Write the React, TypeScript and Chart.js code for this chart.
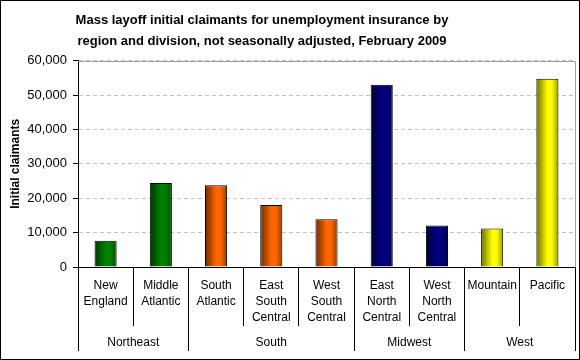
import React, { useEffect, useRef } from "react";
import { Chart, registerables } from "chart.js";

Chart.register(...registerables);

const TITLE_LINES = [
  "Mass layoff initial claimants for unemployment insurance by",
  "region and division, not seasonally adjusted, February 2009",
];
const Y_TITLE = "Initial claimants";

const DIVISIONS: string[][] = [
  ["New", "England"],
  ["Middle", "Atlantic"],
  ["South", "Atlantic"],
  ["East", "South", "Central"],
  ["West", "South", "Central"],
  ["East", "North", "Central"],
  ["West", "North", "Central"],
  ["Mountain"],
  ["Pacific"],
];
const CLAIMANTS = [7600, 24400, 23800, 18000, 13900, 53000, 12100, 11200, 54700];

const REGIONS = ["Northeast", "South", "Midwest", "West"];
const REGION_SIZES = [2, 3, 2, 2];

const Y_TICKS = [0, 10000, 20000, 30000, 40000, 50000, 60000];

const REGION_COLORS = ["#008000", "#FF6600", "#000080", "#FFFF00"];

const FONT = "'Liberation Sans', Arial, Helvetica, sans-serif";

// region layout helpers (derived from REGION_SIZES)
const regionBounds: number[] = [];
const regionCenters: number[] = [];
{
  let start = -0.5;
  regionBounds.push(start);
  REGION_SIZES.forEach((n) => {
    regionCenters.push(start + n / 2);
    start += n;
    regionBounds.push(start);
  });
}
const barRegion: number[] = [];
REGION_SIZES.forEach((n, r) => {
  for (let i = 0; i < n; i++) barRegion.push(r);
});

function shade(hex: string, f: number): string {
  const h = hex.replace("#", "");
  const r = Math.round(parseInt(h.slice(0, 2), 16) * f);
  const g = Math.round(parseInt(h.slice(2, 4), 16) * f);
  const b = Math.round(parseInt(h.slice(4, 6), 16) * f);
  return `rgb(${r},${g},${b})`;
}

const BAR_FRACTION = 0.4;

const titleShift = {
  id: "titleShift",
  afterLayout(chart: any) {
    const t = chart.titleBlock;
    if (t) {
      t.left -= 26;
      t.right -= 26;
    }
  },
};

const plotFrame = {
  id: "plotFrame",
  beforeDatasetsDraw(chart: any) {
    const { ctx, chartArea } = chart;
    ctx.save();
    ctx.strokeStyle = "#a0a0a0";
    ctx.lineWidth = 1;
    ctx.setLineDash([]);
    ctx.beginPath();
    ctx.moveTo(Math.round(chartArea.left), Math.round(chartArea.top) + 0.5);
    ctx.lineTo(Math.round(chartArea.right) + 0.5, Math.round(chartArea.top) + 0.5);
    ctx.lineTo(Math.round(chartArea.right) + 0.5, Math.round(chartArea.bottom));
    ctx.stroke();
    ctx.restore();
  },
};

export default function App() {
  const ref = useRef<HTMLCanvasElement>(null);

  useEffect(() => {
    const canvas = ref.current;
    if (!canvas) return;

    const chart = new Chart(canvas, {
      type: "bar",
      data: {
        labels: DIVISIONS,
        datasets: [
          {
            data: CLAIMANTS,
            xAxisID: "x",
            yAxisID: "y",
            borderColor: "#000000",
            borderWidth: 1,
            barPercentage: BAR_FRACTION,
            categoryPercentage: 1,
            backgroundColor: (c: any) => {
              const base = REGION_COLORS[barRegion[c.dataIndex] ?? 0];
              const ch = c.chart;
              const xs = ch.scales && ch.scales.x;
              if (!xs || !ch.chartArea) return base;
              const cx = xs.getPixelForValue(c.dataIndex);
              const w = (xs.width / DIVISIONS.length) * BAR_FRACTION;
              const g = ch.ctx.createLinearGradient(cx - w / 2, 0, cx + w / 2, 0);
              g.addColorStop(0, shade(base, 0.42));
              g.addColorStop(0.5, base);
              g.addColorStop(0.7, base);
              g.addColorStop(1, shade(base, 0.6));
              return g;
            },
          },
        ],
      },
      options: {
        responsive: false,
        animation: false,
        devicePixelRatio: 1,
        layout: { padding: { left: 0, right: 4, top: 0, bottom: 8 } },
        plugins: {
          legend: { display: false },
          tooltip: { enabled: false },
          title: {
            display: true,
            text: TITLE_LINES,
            color: "#000",
            font: { family: FONT, size: 13, weight: "bold", lineHeight: 1.6 },
            padding: { top: 9, bottom: 9 },
          },
        },
        scales: {
          x: {
            type: "category",
            position: "bottom",
            offset: true,
            grid: {
              display: true,
              offset: true,
              drawOnChartArea: false,
              drawTicks: true,
              tickLength: 59,
              color: "#000",
              tickColor: "#000",
            },
            border: { display: true, color: "#000", width: 1 },
            ticks: {
              autoSkip: false,
              maxRotation: 0,
              minRotation: 0,
              padding: -48,
              color: "#000",
              font: { family: FONT, size: 12, lineHeight: 16 / 12 },
            },
            afterFit: (s: any) => {
              s.height = 59;
            },
          },
          x2: {
            type: "linear",
            axis: "x",
            position: "bottom",
            weight: 1,
            offset: false,
            min: regionBounds[0],
            max: regionBounds[regionBounds.length - 1],
            afterBuildTicks: (s: any) => {
              const vals = [...regionBounds, ...regionCenters].sort((a, b) => a - b);
              s.ticks = vals.map((v) => ({ value: v }));
            },
            grid: {
              display: true,
              offset: false,
              drawOnChartArea: false,
              drawTicks: true,
              tickLength: 25,
              color: (c: any) =>
                c.tick && regionBounds.includes(c.tick.value) ? "#000" : "rgba(0,0,0,0)",
              tickColor: (c: any) =>
                c.tick && regionBounds.includes(c.tick.value) ? "#000" : "rgba(0,0,0,0)",
            },
            border: { display: false },
            ticks: {
              autoSkip: false,
              maxRotation: 0,
              minRotation: 0,
              padding: -16,
              color: "#000",
              font: { family: FONT, size: 12, lineHeight: 16 / 12 },
              callback: (v: any) => {
                const idx = regionCenters.indexOf(Number(v));
                return idx >= 0 ? REGIONS[idx] : "";
              },
            },
            afterFit: (s: any) => {
              s.height = 25;
            },
          },
          y: {
            type: "linear",
            position: "left",
            min: Y_TICKS[0],
            max: Y_TICKS[Y_TICKS.length - 1],
            afterBuildTicks: (s: any) => {
              s.ticks = Y_TICKS.map((v) => ({ value: v }));
            },
            grid: {
              display: true,
              drawOnChartArea: true,
              drawTicks: true,
              tickLength: 5,
              color: (c: any) => (c.tick && c.tick.value === 0 ? "rgba(0,0,0,0)" : "#c0c0c0"),
              tickColor: "#000",
              tickBorderDash: [],
            },
            border: { display: true, color: "#000", width: 1, dash: [4, 3] },
            ticks: {
              padding: 6,
              color: "#000",
              font: { family: FONT, size: 13 },
              callback: (v: any) => Number(v).toLocaleString("en-US"),
            },
            title: {
              display: true,
              text: Y_TITLE,
              color: "#000",
              font: { family: FONT, size: 12, weight: "bold" },
              padding: { top: 7, bottom: 0 },
            },
            afterFit: (s: any) => {
              s.width = 77;
            },
          },
        },
      },
      plugins: [titleShift, plotFrame],
    } as any);

    return () => chart.destroy();
  }, []);

  return (
    <div
      style={{
        position: "absolute",
        left: 0,
        top: 0,
        width: 580,
        height: 360,
        border: "1px solid #000",
        boxSizing: "border-box",
        background: "#fff",
      }}
    >
      <canvas ref={ref} width={578} height={358} style={{ display: "block", width: 578, height: 358 }} />
    </div>
  );
}
